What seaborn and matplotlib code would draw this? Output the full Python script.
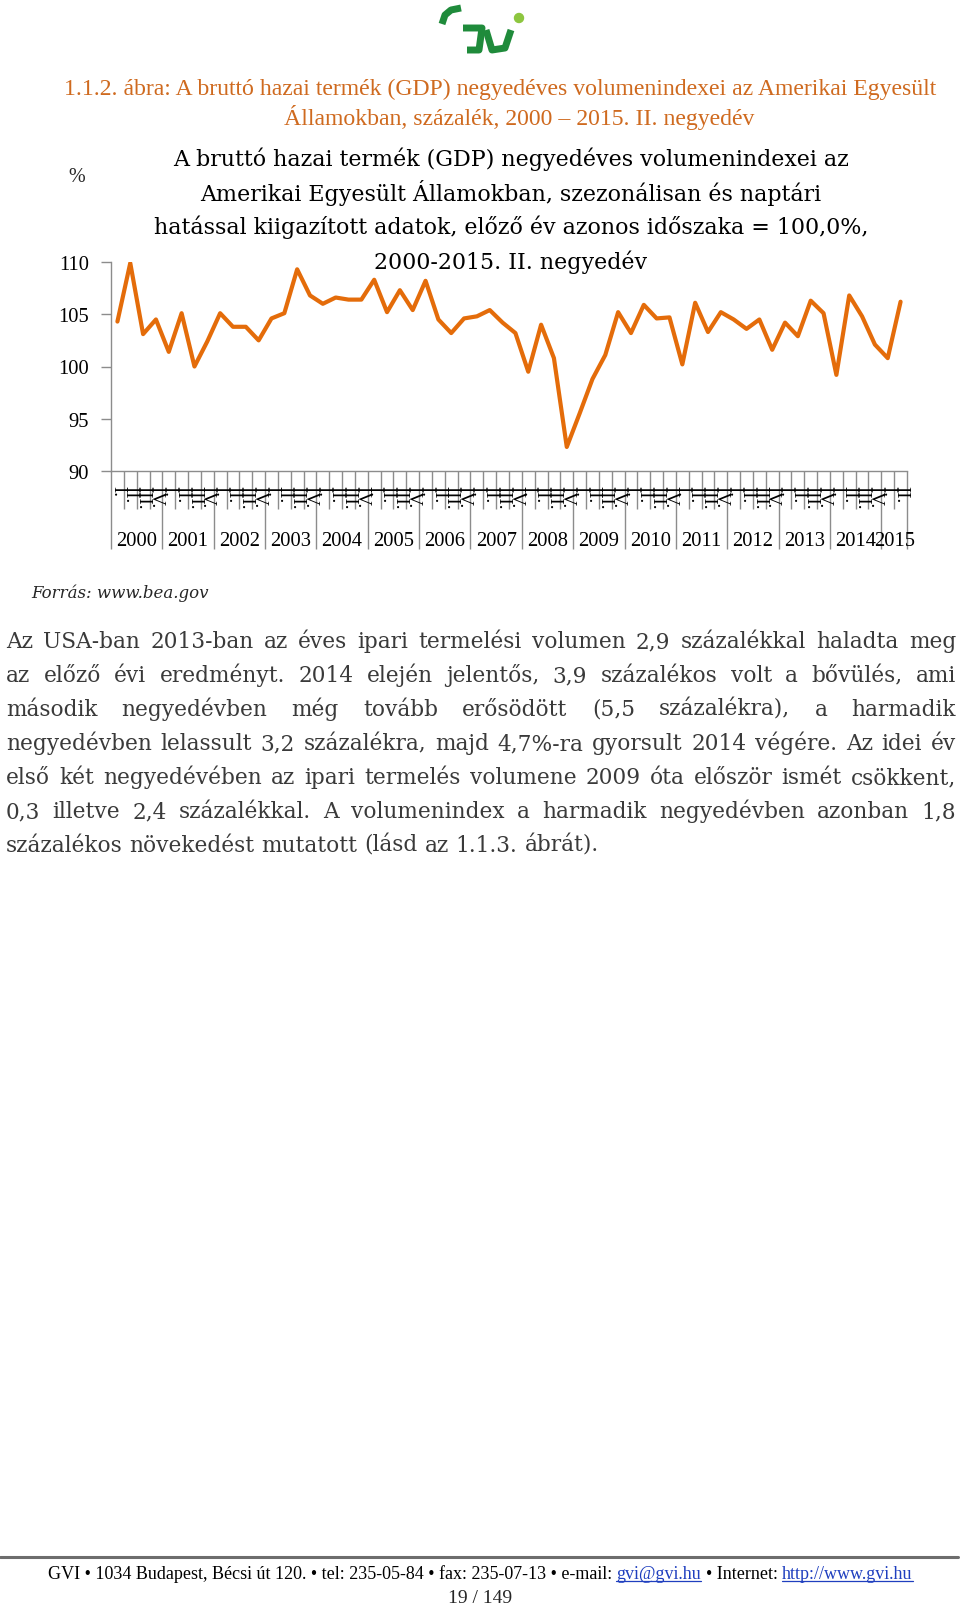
import pandas as pd
import matplotlib
matplotlib.use("Agg")
import matplotlib.pyplot as plt
import seaborn as sns
from matplotlib.transforms import blended_transform_factory

# Adatok (leolvasva az ábráról)
years = list(range(2000, 2016))
quarters = ["I.", "II.", "III.", "IV."]
gdp_index = [
    104.3, 109.9, 103.1, 104.5, 101.4, 105.1, 100.0, 102.4,
    105.1, 103.8, 103.8, 102.5, 104.6, 105.1, 109.3, 106.8,
    106.0, 106.6, 106.4, 106.4, 108.3, 105.2, 107.3, 105.4,
    108.2, 104.5, 103.2, 104.6, 104.8, 105.4, 104.2, 103.2,
    99.5, 104.0, 100.8, 92.3, 95.5, 98.8, 101.1, 105.2,
    103.2, 105.9, 104.6, 104.7, 100.2, 106.1, 103.3, 105.2,
    104.5, 103.6, 104.5, 101.6, 104.2, 102.9, 106.3, 105.1,
    99.2, 106.8, 104.8, 102.1, 100.8, 106.2,
]
y_ticks = [90, 95, 100, 105, 110]

header_lines = [
    "1.1.2. ábra: A bruttó hazai termék (GDP) negyedéves volumenindexei az Amerikai Egyesült",
    "Államokban, százalék, 2000 – 2015. II. negyedév",
]
chart_title = [
    "A bruttó hazai termék (GDP) negyedéves volumenindexei az",
    "Amerikai Egyesült Államokban, szezonálisan és naptári",
    "hatással kiigazított adatok, előző év azonos időszaka = 100,0%,",
    "2000-2015. II. negyedév",
]
source_text = "Forrás: www.bea.gov"
paragraph = [
    "Az USA-ban 2013-ban az éves ipari termelési volumen 2,9 százalékkal haladta meg",
    "az előző évi eredményt. 2014 elején jelentős, 3,9 százalékos volt a bővülés, ami",
    "második negyedévben még tovább erősödött (5,5 százalékra), a harmadik",
    "negyedévben lelassult 3,2 százalékra, majd 4,7%-ra gyorsult 2014 végére. Az idei év",
    "első két negyedévében az ipari termelés volumene 2009 óta először ismét csökkent,",
    "0,3 illetve 2,4 százalékkal. A volumenindex a harmadik negyedévben azonban 1,8",
    "százalékos növekedést mutatott (lásd az 1.1.3. ábrát).",
]
footer_parts = [
    ("GVI • 1034 Budapest, Bécsi út 120. • tel: 235-05-84 • fax: 235-07-13 • e-mail:", False),
    ("gvi@gvi.hu", True),
    ("• Internet:", False),
    ("http://www.gvi.hu", True),
]
page_no = "19 / 149"

df = pd.DataFrame({
    "ev": [years[i // 4] for i in range(len(gdp_index))],
    "negyedev": [quarters[i % 4] for i in range(len(gdp_index))],
    "pos": list(range(len(gdp_index))),
    "index": gdp_index,
})

sns.set_theme(style="white")
plt.rcParams["font.family"] = ["Liberation Serif", "DejaVu Serif"]

W, H = 960, 1608
fig = plt.figure(figsize=(W / 100, H / 100), dpi=100)
fig.patch.set_facecolor("white")


def fx(px):
    return px / W


def fy(py):
    return 1 - py / H


ORANGE = "#E46C0A"
GRAY = "#8C8C8C"

# --- diagram ---
ax = fig.add_axes([fx(111), fy(472), fx(907) - fx(111), fy(263) - fy(472)])
ax.set_facecolor("none")
sns.lineplot(data=df, x="pos", y="index", color=ORANGE, linewidth=3.0, ax=ax)
n = len(gdp_index)
ax.set_xlim(-0.5, n - 0.5)
ax.set_ylim(y_ticks[0], y_ticks[-1])
ax.set_yticks(y_ticks)
ax.set_yticklabels([str(t) for t in y_ticks])
ax.set_xlabel("")
ax.set_ylabel("")
for side in ["top", "right"]:
    ax.spines[side].set_visible(False)
for side in ["left", "bottom"]:
    ax.spines[side].set_color(GRAY)
    ax.spines[side].set_linewidth(1)
ax.tick_params(axis="y", left=True, length=7.2, width=1, color=GRAY, pad=8.6,
               labelsize=14.8, labelcolor="black")

year_bounds = [k - 0.5 for k in range(0, n, 4)] + [n - 0.5]
all_bounds = [k - 0.5 for k in range(n + 1)]
ax.set_xticks(year_bounds)
ax.set_xticks(all_bounds, minor=True)
ax.set_xticklabels([])
ax.tick_params(axis="x", which="major", bottom=True, length=56, width=1, color=GRAY)
ax.tick_params(axis="x", which="minor", bottom=True, length=27.4, width=1, color=GRAY)

# negyedéves feliratok (elforgatva, egymásra csúszva, mint az eredetin)
trans = blended_transform_factory(ax.transData, fig.transFigure)
for i in range(n):
    ax.text(i, fy(486), quarters[i % 4], transform=trans, rotation=270,
            ha="center", va="top", fontsize=13.7, color="black")
for j, yr in enumerate(years):
    idx = [i for i in range(n) if i // 4 == j]
    xc = (idx[0] + idx[-1]) / 2
    ax.text(xc, fy(541), str(yr), transform=trans, ha="center", va="center",
            fontsize=14.8, color="black")

fig.text(fx(77), fy(178), "%", ha="center", va="center", fontsize=14.5)
for k, line in enumerate(chart_title):
    fig.text(fx(511), fy(159 + 34.3 * k), line, ha="center", va="center",
             fontsize=15.9, family="DejaVu Serif", color="black")

# --- fejléc ---
HEAD = "#CF6A1F"
fig.text(fx(500), fy(89), header_lines[0], ha="center", va="center", fontsize=17.1, color=HEAD)
fig.text(fx(519), fy(118), header_lines[1], ha="center", va="center", fontsize=17.1, color=HEAD)

# logó
deco = fig.add_axes([0, 0, 1, 1], zorder=-1)
deco.set_xlim(0, W)
deco.set_ylim(H, 0)
deco.axis("off")
DG = "#1F8B3B"
deco.plot([442, 445, 451, 461], [25, 16, 11, 9], color=DG, lw=5, solid_capstyle="butt")
deco.plot([463, 482, 479, 467], [29, 29, 51, 51], color=DG, lw=5, solid_capstyle="butt",
          solid_joinstyle="round")
deco.plot([486, 492, 505, 511], [31, 51, 49, 31], color=DG, lw=5, solid_capstyle="butt",
          solid_joinstyle="round")
deco.add_patch(plt.Circle((519, 19), 4.5, color="#8DC63F"))

# forrás
fig.text(fx(31), fy(593), source_text, ha="left", va="center", fontsize=12.0,
         style="italic", family="DejaVu Serif")

# bekezdés sorkizártan
renderer = fig.canvas.get_renderer()
PARA = dict(fontsize=15.6, family="DejaVu Serif", color="#3a3a3a")


def width_px(s, **kw):
    t = fig.text(0, 0, s, **kw)
    w = t.get_window_extent(renderer).width
    t.remove()
    return w


x_left, x_right = 6, 956
space_w = width_px("x x", **PARA) - width_px("xx", **PARA)
for k, line in enumerate(paragraph):
    words = line.split()
    widths = [width_px(w, **PARA) for w in words]
    base = 648 + 34 * k
    if k < len(paragraph) - 1 and len(words) > 1:
        gap = (x_right - x_left - sum(widths)) / (len(words) - 1)
    else:
        gap = space_w
    x = x_left
    for w, wd in zip(words, widths):
        fig.text(fx(x), fy(base), w, ha="left", va="baseline", **PARA)
        x += wd + gap

# lábléc
deco.plot([0, 958], [1558, 1558], color="#6d6d6d", lw=2.2)
FOOT = dict(fontsize=13.0, color="black")
fsp = width_px("x x", **FOOT) - width_px("xx", **FOOT)
fw = [width_px(s, **FOOT) for s, _ in footer_parts]
total = sum(fw) + fsp * (len(footer_parts) - 1)
x = 480 - total / 2
for (s, link), wd in zip(footer_parts, fw):
    col = "#1F3FBF" if link else "black"
    fig.text(fx(x), fy(1579), s, ha="left", va="baseline", fontsize=13.0, color=col)
    if link:
        deco.plot([x, x + wd], [1581.5, 1581.5], color=col, lw=0.9)
    x += wd + fsp
fig.text(fx(480), fy(1599), page_no, ha="center", va="center", fontsize=14)

fig.savefig("out.png", dpi=100)
